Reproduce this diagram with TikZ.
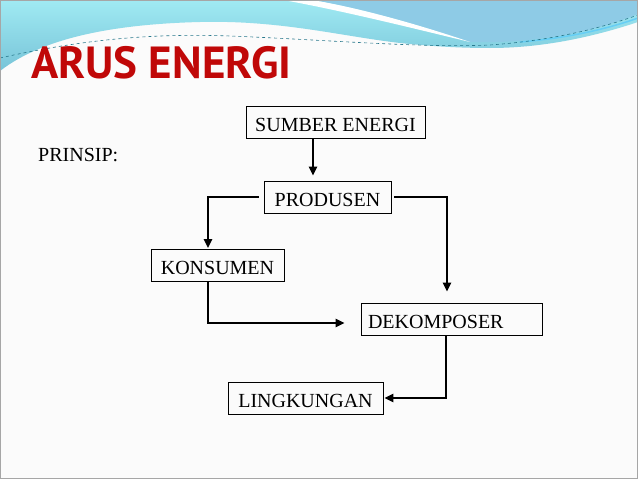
\documentclass[tikz,border=0pt]{standalone}
\usepackage{fontspec}
\usetikzlibrary{arrows.meta}
\newfontfamily\titlefont{PT Sans}
\newfontfamily\seriffont{Liberation Serif}
\newcommand\boxfont{\seriffont\fontsize{20}{23}\selectfont}
\definecolor{titlered}{RGB}{192,8,8}
\definecolor{wavecyan}{RGB}{160,234,243}
\definecolor{wavedeep}{RGB}{120,196,216}
\definecolor{waveblue}{RGB}{142,203,230}
\definecolor{dashteal}{RGB}{40,120,140}

\begin{document}
\begin{tikzpicture}[
    x=1pt, y=-1pt,
    every node/.style = {inner sep=0pt},
    box/.style        = {draw, line width=0.9pt, font=\boxfont, minimum height=32pt,
                         text height=18pt, text depth=0pt, inner xsep=7pt},
    arr/.style        = {line width=2.6pt, -{Triangle[length=9pt,width=8pt]}}
    ]
      % slide ----------------------------------------------------
      \useasboundingbox (0,0) rectangle (638,479);
      \fill[gray!3] (0,0) rectangle (638,479);
      \shade[top color=wavecyan, bottom color=wavedeep]
            (0,0) -- (638,0) -- (638,22)
            .. controls (590,38) and (540,48) .. (490,48)
            .. controls (450,48) and (420,45) .. (400,43)
            .. controls (340,36) and (280,20) .. (200,22)
            .. controls (120,24) and (45,36) .. (0,71) -- cycle;
      \fill[waveblue] (312,0) .. controls (360,8) and (420,25) .. (470,42)
            .. controls (540,44) and (600,30) .. (638,14) -- (638,0) -- cycle;
      \fill[white] (283,0) .. controls (340,10) and (420,30) .. (470,42)
            .. controls (420,25) and (360,8) .. (312,0) -- cycle;
      \draw[cyan!60, line width=1.5pt] (520,42) .. controls (570,38) and (610,28) .. (638,18);
      \draw[dashteal, dashed, line width=0.6pt] (0,58) .. controls (80,40) and (150,33) .. (230,36)
            .. controls (330,40) and (420,48) .. (490,45)
            .. controls (560,40) and (610,25) .. (638,15);
      \draw[gray!70, line width=1pt] (0.5,0.5) rectangle (637.5,478.5);

      % texts ----------------------------------------------------
      \node[anchor=base west, text=titlered,
            font=\titlefont\bfseries\fontsize{45}{48}\selectfont] (title) at (31,78) {ARUS ENERGI};
      \node[anchor=base west, font=\boxfont] (prinsip) at (38,161) {PRINSIP:};

      % boxes ----------------------------------------------------
      \node[box, minimum width=179pt] (sumber)     at (335.5,122) {SUMBER ENERGI};
      \node[box, minimum width=127pt] (produsen)   at (327.5,197) {PRODUSEN};
      \node[box, minimum width=133pt] (konsumen)   at (217.5,265.5) {KONSUMEN};
      \node[box, text width=167pt, align=left] (dekomposer) at (451.5,319) {DEKOMPOSER};
      \node[box, minimum width=155pt] (lingkungan) at (305.5,398) {LINGKUNGAN};

      % arrows ---------------------------------------------------
      \draw[arr, shorten >=5pt] ([xshift=-22.5pt]sumber.south) -- ([xshift=-14.5pt]produsen.north);
      \draw[arr, shorten <=5pt, shorten >=1pt] (produsen.west) -| ([xshift=-9.5pt]konsumen.north);
      \draw[arr, shorten <=3pt, shorten >=11pt] (produsen.east) -| ([xshift=-4.5pt]dekomposer.north);
      \draw[arr, shorten >=16pt] ([xshift=-9.5pt]konsumen.south) |- ([yshift=-4pt]dekomposer.west);
      \draw[arr, shorten >=1pt] ([xshift=-5.5pt]dekomposer.south) |- (lingkungan.east);
    \end{tikzpicture}
\end{document}
